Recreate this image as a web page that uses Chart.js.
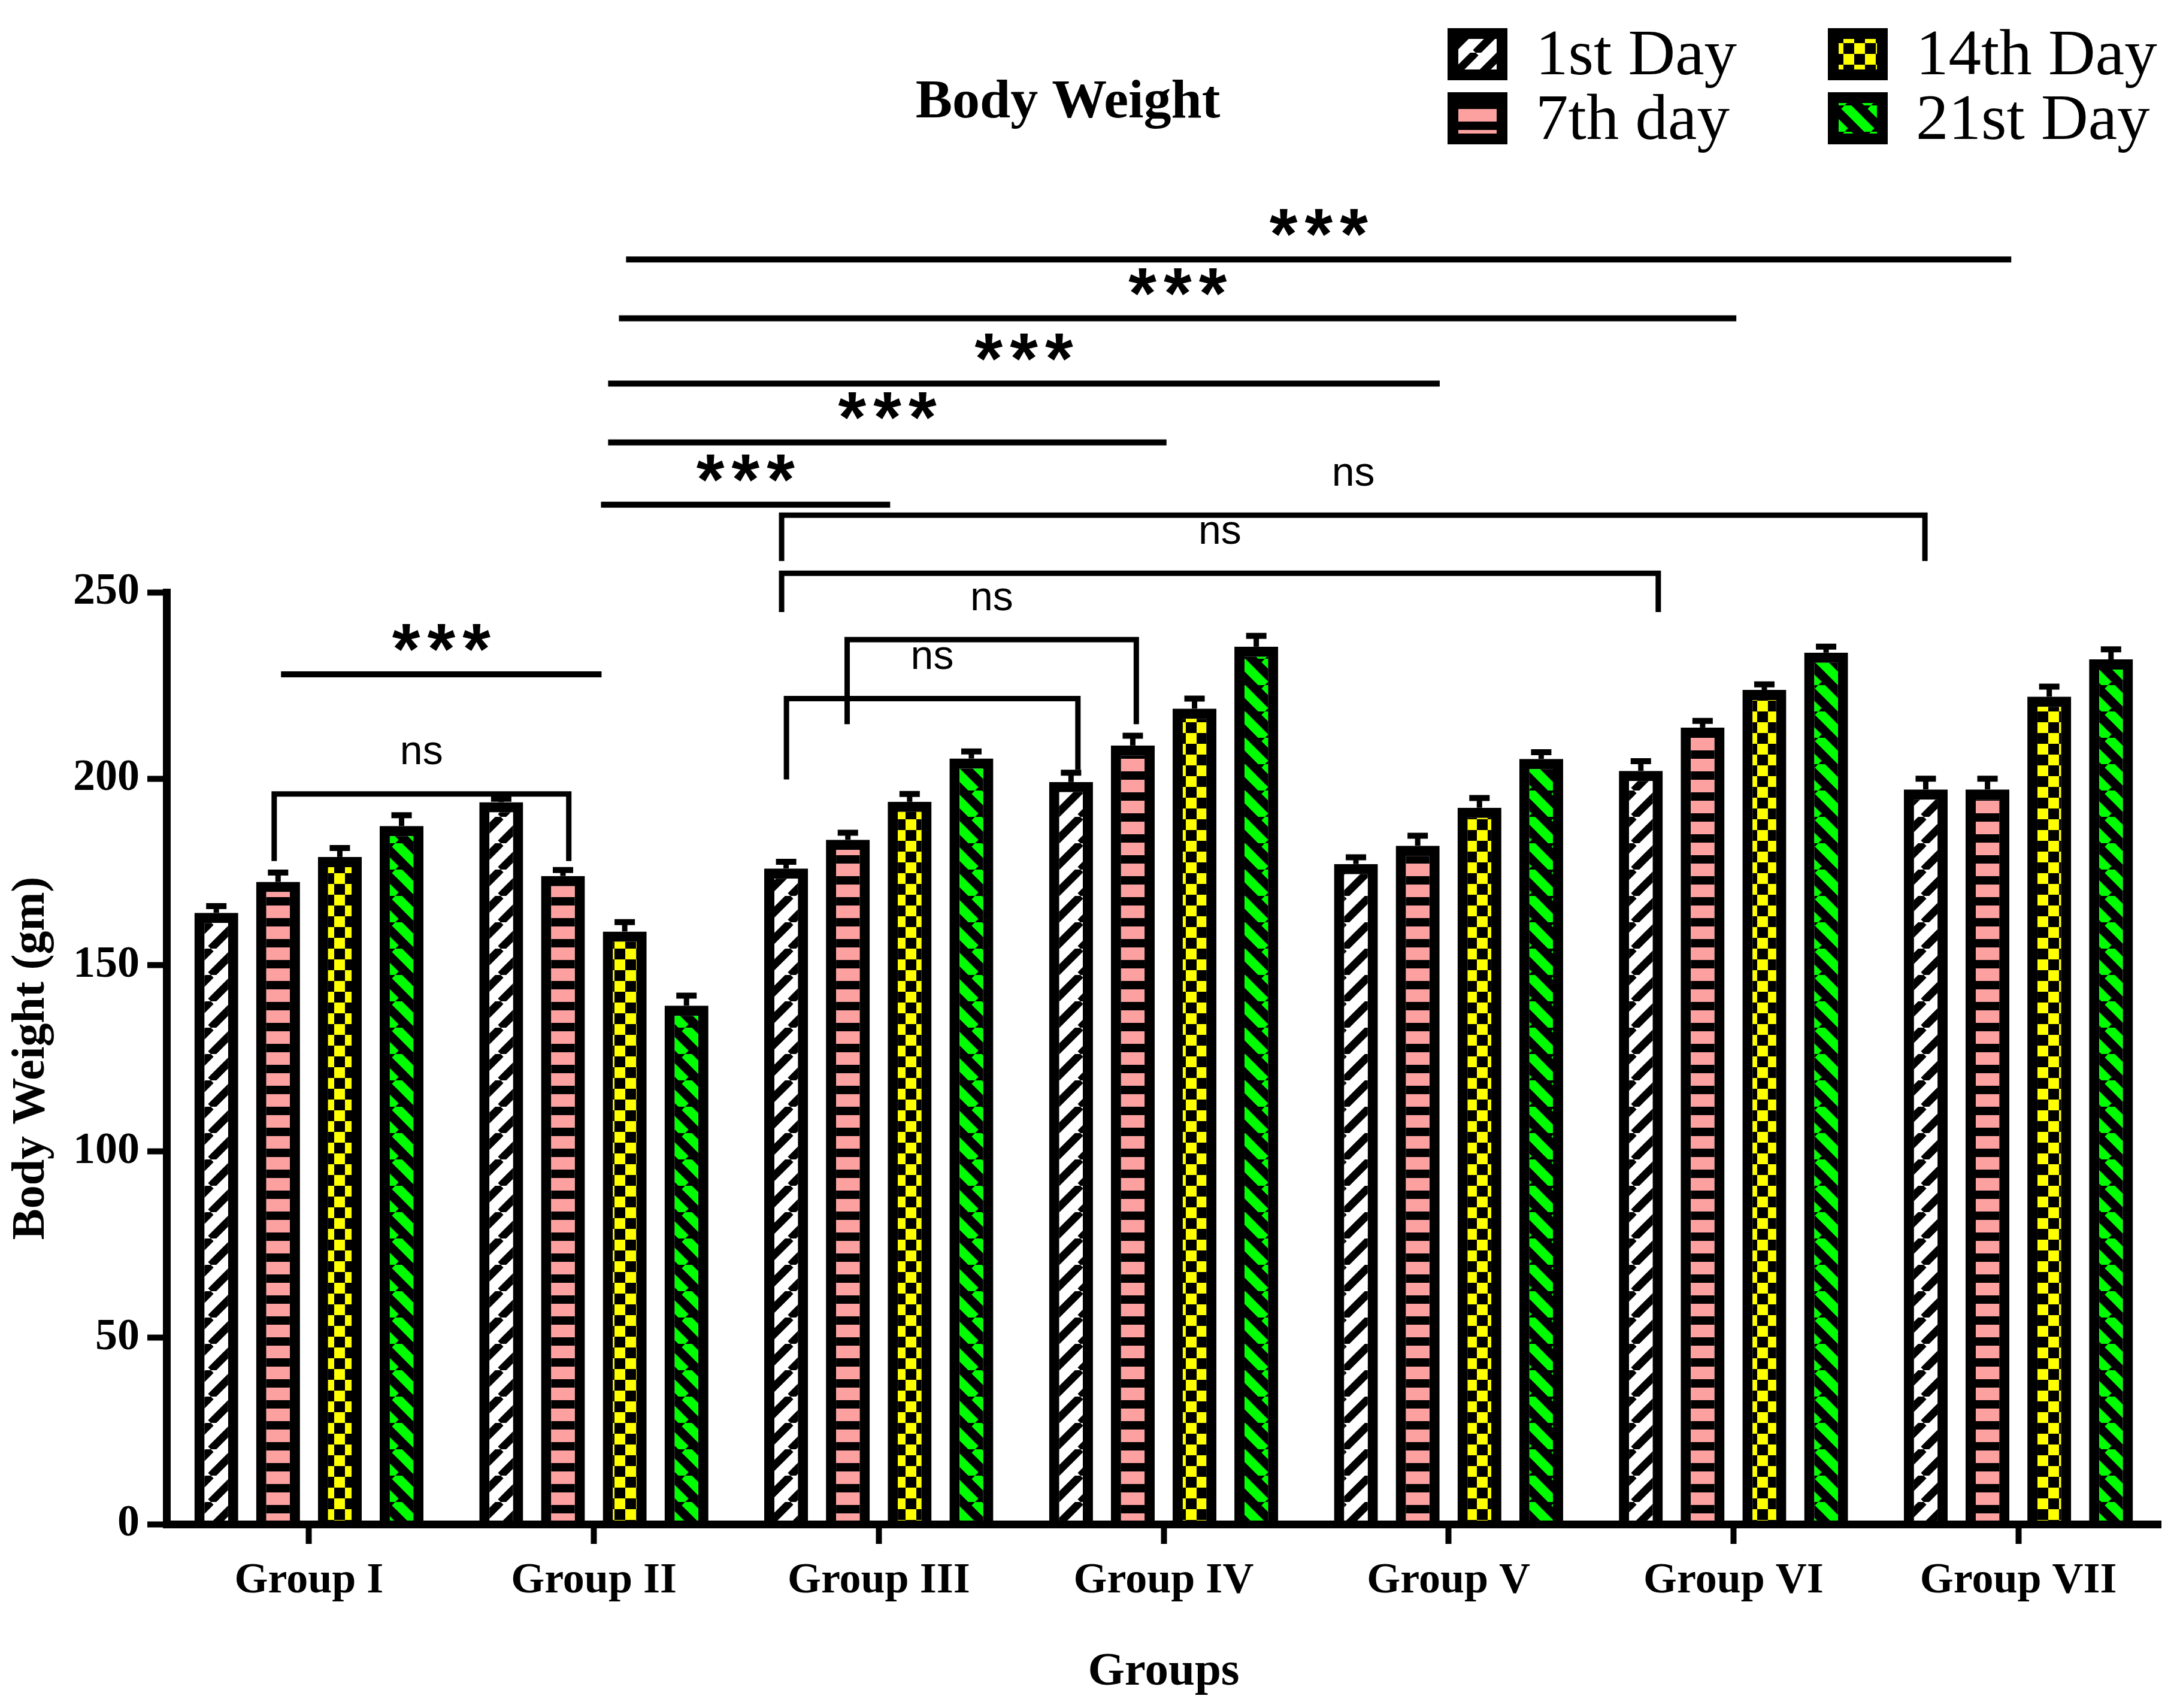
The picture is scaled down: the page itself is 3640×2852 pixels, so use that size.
<!DOCTYPE html>
<html>
<head>
<meta charset="utf-8">
<script src="https://cdn.jsdelivr.net/npm/chart.js@4.4.1/dist/chart.umd.min.js"></script>
<style>
  html, body { margin: 0; padding: 0; background: #fff; }
  #wrap { width: 3640px; height: 2852px; }
</style>
</head>
<body>
<div id="wrap"><canvas id="chart" width="3640" height="2852"></canvas></div>
<script>
// ====== DADOS ======
const groups = ["Group I", "Group II", "Group III", "Group IV", "Group V", "Group VI", "Group VII"];
const seriesNames = ["1st Day", "7th day", "14th Day", "21st Day"];

const day1 = [164.0, 193.7, 175.9, 199.1, 177.1, 202.1, 197.1];
const day7 = [172.3, 173.9, 183.6, 208.9, 182.0, 213.7, 197.1];
const day14 = [179.0, 159.0, 193.8, 218.8, 192.2, 223.8, 222.0];
const day21 = [187.3, 139.1, 205.4, 235.4, 205.3, 233.8, 232.0];

// erro padrão (barra só para cima)
const err1 = [1.8, 0.9, 1.8, 2.5, 1.8, 2.6, 2.9];
const err7 = [2.5, 1.6, 1.9, 2.6, 2.7, 1.8, 2.9];
const err14 = [2.4, 2.5, 2.1, 2.7, 2.6, 1.5, 2.7];
const err21 = [2.9, 2.7, 1.9, 2.9, 1.8, 1.6, 2.7];

const yMin = 0, yMax = 250, yStep = 50;

// linhas de significância: [de, até (posição na escala de grupos), valor y, texto]
const sigLines = [
  [-0.098, 1.027, 228.0, "***"],
  [1.025, 2.040, 273.5, "***"],
  [1.050, 3.010, 290.2, "***"],
  [1.050, 3.969, 306.0, "***"],
  [1.088, 5.010, 323.5, "***"],
  [1.113, 5.975, 339.3, "***"]
];
// colchetes: [de, até, valor y, ponta esquerda, ponta direita, texto]
const sigBrackets = [
  [-0.122, 0.912, 195.9, 177.9, 177.9, "ns"],
  [1.676, 2.699, 221.5, 199.8, 202.4, "ns"],
  [1.889, 2.904, 237.3, 214.6, 214.6, "ns"],
  [1.659, 4.736, 255.1, 244.7, 244.7, "ns"],
  [1.659, 5.672, 270.7, 258.4, 258.4, "ns"]
];

const SERIF = '"Liberation Serif", "Times New Roman", serif';
const SANS = '"Liberation Sans", Arial, sans-serif';

// ====== PADRÕES DAS BARRAS ======
const canvas = document.getElementById("chart");
const mainCtx = canvas.getContext("2d");

function makePattern(kind) {
  const c = document.createElement("canvas");
  const g = c.getContext("2d");
  if (kind === "diagUp" || kind === "diagDown") {
    const s = 44;
    c.width = s; c.height = s;
    g.fillStyle = kind === "diagUp" ? "#fff" : "#000";
    g.fillRect(0, 0, s, s);
    g.strokeStyle = kind === "diagUp" ? "#000" : "#00ff00";
    g.lineWidth = kind === "diagUp" ? 13 : 16;
    for (let k = -1; k <= 2; k++) {
      g.beginPath();
      if (kind === "diagUp") { g.moveTo(k * s, s); g.lineTo(k * s + s, 0); }
      else { g.moveTo(k * s, 0); g.lineTo(k * s + s, s); }
      g.stroke();
    }
  } else if (kind === "hstripe") {
    c.width = 36; c.height = 35;
    g.fillStyle = "#000"; g.fillRect(0, 0, 36, 35);
    g.fillStyle = "#fca0a0"; g.fillRect(0, 7, 36, 21);
  } else {
    c.width = 36; c.height = 36;
    g.fillStyle = "#000"; g.fillRect(0, 0, 36, 36);
    g.fillStyle = "#ffff00";
    g.fillRect(0, 0, 18, 18); g.fillRect(18, 18, 18, 18);
  }
  return mainCtx.createPattern(c, "repeat");
}

const fills = [makePattern("diagUp"), makePattern("hstripe"), makePattern("checker"), makePattern("diagDown")];
const values = [day1, day7, day14, day21];
const errors = [err1, err7, err14, err21];

// ====== PLUGIN: barras de erro, significância, título e legenda ======
const overlay = {
  id: "overlay",
  afterDatasetsDraw(chart) {
    const ctx = chart.ctx;
    const xs = chart.scales.x, ys = chart.scales.y;
    ctx.save();
    ctx.strokeStyle = "#000";
    ctx.fillStyle = "#000";

    // barras de erro
    chart.data.datasets.forEach((ds, i) => {
      chart.getDatasetMeta(i).data.forEach((bar, j) => {
        const top = ys.getPixelForValue(ds.data[j] + ds.errors[j]);
        ctx.lineWidth = 9;
        ctx.beginPath(); ctx.moveTo(bar.x, bar.y); ctx.lineTo(bar.x, top); ctx.stroke();
        ctx.lineWidth = 10;
        ctx.beginPath(); ctx.moveTo(bar.x - 17, top); ctx.lineTo(bar.x + 17, top); ctx.stroke();
      });
    });

    // linhas ***
    ctx.lineWidth = 10;
    ctx.textAlign = "center";
    ctx.textBaseline = "middle";
    sigLines.forEach(([a, b, v, txt]) => {
      const x1 = xs.getPixelForValue(a), x2 = xs.getPixelForValue(b), yy = ys.getPixelForValue(v);
      ctx.beginPath(); ctx.moveTo(x1, yy); ctx.lineTo(x2, yy); ctx.stroke();
      ctx.font = "bold 120px " + SANS;
      ctx.letterSpacing = "12px";
      ctx.fillText(txt, (x1 + x2) / 2 + 6, yy - 34);
    });

    // colchetes ns
    ctx.letterSpacing = "0px";
    sigBrackets.forEach(([a, b, v, l, r, txt]) => {
      const x1 = xs.getPixelForValue(a), x2 = xs.getPixelForValue(b), yy = ys.getPixelForValue(v);
      ctx.lineWidth = 9;
      ctx.lineJoin = "miter";
      ctx.beginPath();
      ctx.moveTo(x1, ys.getPixelForValue(l));
      ctx.lineTo(x1, yy);
      ctx.lineTo(x2, yy);
      ctx.lineTo(x2, ys.getPixelForValue(r));
      ctx.stroke();
      ctx.font = "68px " + SANS;
      ctx.fillText(txt, (x1 + x2) / 2, yy - 68);
    });
    ctx.restore();
  },
  afterDraw(chart) {
    const ctx = chart.ctx;
    ctx.save();
    // título
    ctx.fillStyle = "#000";
    ctx.textAlign = "center";
    ctx.textBaseline = "middle";
    ctx.font = "bold 92px " + SERIF;
    ctx.fillText("Body Weight", 1783, 172);

    // legenda 2x2
    chart.data.datasets.forEach((ds, i) => {
      const col = Math.floor(i / 2), row = i % 2;
      const bx = [2417, 3052][col], by = 47 + row * 107;
      ctx.fillStyle = ds.backgroundColor;
      ctx.fillRect(bx, by, 100, 87);
      ctx.strokeStyle = "#000";
      ctx.lineWidth = 18;
      ctx.strokeRect(bx + 9, by + 9, 82, 69);
      ctx.fillStyle = "#000";
      ctx.textAlign = "left";
      ctx.textBaseline = "alphabetic";
      ctx.font = "109px " + SERIF;
      ctx.fillText(ds.label, bx + 147, 124 + row * 108);
    });
    ctx.restore();
  }
};

// ====== GRÁFICO ======
new Chart(mainCtx, {
  type: "bar",
  data: {
    labels: groups,
    datasets: seriesNames.map((name, i) => ({
      label: name,
      data: values[i],
      errors: errors[i],
      backgroundColor: fills[i],
      borderColor: "#000",
      borderWidth: 17,
      borderSkipped: "bottom",
      categoryPercentage: 0.867,
      barPercentage: 0.71
    }))
  },
  options: {
    responsive: false,
    animation: false,
    devicePixelRatio: 1,
    layout: { padding: { top: 989, right: 32, left: 0, bottom: 0 } },
    plugins: { legend: { display: false }, tooltip: { enabled: false } },
    scales: {
      x: {
        afterFit: s => { s.height = 2852 - 2545; },
        grid: { drawOnChartArea: false, drawTicks: true, tickLength: 33, tickWidth: 10, tickColor: "#000", offset: false },
        border: { display: true, color: "#000", width: 13, z: 1 },
        ticks: { color: "#000", padding: 19, font: { family: SERIF, size: 72, weight: "bold" } },
        title: { display: true, text: "Groups", color: "#000", padding: { top: 0, bottom: 12 }, font: { family: SERIF, size: 79, weight: "bold" } }
      },
      y: {
        min: yMin,
        max: yMax,
        afterFit: s => { s.width = 278; },
        grid: { drawOnChartArea: false, drawTicks: true, tickLength: 32, tickWidth: 10, tickColor: "#000" },
        border: { display: true, color: "#000", width: 13, z: 1 },
        ticks: { stepSize: yStep, color: "#000", padding: 13, font: { family: SERIF, size: 74, weight: "bold" } },
        title: { display: true, text: "Body Weight (gm)", color: "#000", padding: { top: 6, bottom: 0 }, font: { family: SERIF, size: 78, weight: "bold" } }
      }
    }
  },
  plugins: [overlay]
});
</script>
</body>
</html>
